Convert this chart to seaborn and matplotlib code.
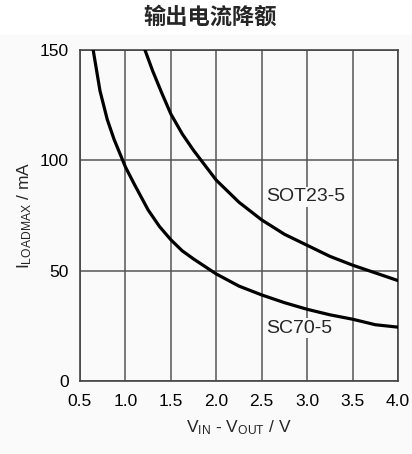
import pandas as pd
import matplotlib
matplotlib.use('Agg')
import matplotlib.pyplot as plt
import seaborn as sns

# Data
sc70_v = [0.645, 0.72, 0.8, 0.875, 1.0, 1.1, 1.25, 1.375, 1.5, 1.625, 1.75, 2.0,
          2.25, 2.5, 2.75, 3.0, 3.25, 3.5, 3.75, 4.0]
sc70_i = [150, 131.5, 118.5, 109.5, 97, 89, 77.5, 70, 64, 59, 55.3, 48.5,
          43, 39, 35.5, 32.5, 30, 28, 25.5, 24.4]
sot23_v = [1.215, 1.3, 1.4, 1.5, 1.625, 1.75, 2.0, 2.25, 2.5, 2.75, 3.0, 3.25, 3.5, 3.75, 4.0]
sot23_i = [150, 140.5, 130.5, 121, 112, 104.5, 91, 81, 73, 66.5, 61.5, 56.5, 52.5, 49, 45.5]

x_ticks = [0.5, 1.0, 1.5, 2.0, 2.5, 3.0, 3.5, 4.0]
y_ticks = [0, 50, 100, 150]

df = pd.concat([
    pd.DataFrame({'v': sc70_v, 'i': sc70_i, 'pkg': 'SC70-5'}),
    pd.DataFrame({'v': sot23_v, 'i': sot23_i, 'pkg': 'SOT23-5'}),
])

sns.set_style('white')
plt.rcParams['font.family'] = ['Liberation Sans', 'Noto Sans CJK SC', 'DejaVu Sans']
plt.rcParams['mathtext.default'] = 'regular'

fig = plt.figure(figsize=(4.12, 4.54), dpi=100)
fig.patch.set_facecolor('white')
# light grey panel behind the chart, below the title band
bg = plt.Rectangle((0, 0), 1, 1 - 35 / 454, transform=fig.transFigure,
                   facecolor='#fafafa', edgecolor='none', zorder=-10)
fig.add_artist(bg)

ax = fig.add_axes([80 / 412, 1 - 381 / 454, 318 / 412, 331 / 454])
ax.set_zorder(1)
ax.set_facecolor('#fafafa')

sns.lineplot(data=df, x='v', y='i', units='pkg', estimator=None, color='black',
             linewidth=2.3, sort=False, legend=False, ax=ax, zorder=3)

ax.set_xlim(0.5, 4.0)
ax.set_ylim(0, 150)
ax.set_xticks(x_ticks)
ax.set_xticklabels([f'{t:.1f}' for t in x_ticks])
ax.set_yticks(y_ticks)
ax.grid(True, color='#555555', linewidth=1.1)
ax.tick_params(length=0, labelsize=12.5, colors='black')
ax.tick_params(axis='x', pad=9)
ax.tick_params(axis='y', pad=8)
for s in ax.spines.values():
    s.set_color('#444444')
    s.set_linewidth(1.2)

ax.set_xlabel('V$_{IN}$ - V$_{OUT}$ / V', fontsize=12.5, labelpad=7)
ax.set_ylabel('I$_{LOADMAX}$ / mA', fontsize=12.5, labelpad=4)

box = dict(facecolor='#fafafa', edgecolor='none', pad=1)
ax.text(2.55, 83.5, 'SOT23-5', fontsize=14, va='center', ha='left', bbox=box, zorder=4)
ax.text(2.55, 24, 'SC70-5', fontsize=14, va='center', ha='left', bbox=box, zorder=4)

fig.suptitle('输出电流降额', x=0.51, y=0.962, va='center', fontsize=16, fontweight='bold',
             family=['Noto Sans CJK SC', 'DejaVu Sans'])

fig.savefig('out.png', dpi=100)
